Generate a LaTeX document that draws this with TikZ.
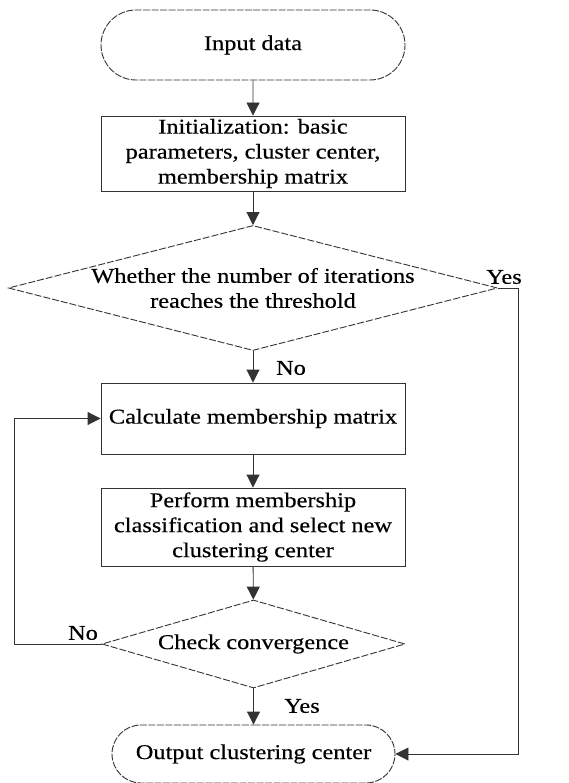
\documentclass[tikz,border=0pt]{standalone}
\usepackage{fontspec}
\setmainfont[FakeStretch=1.16,FakeBold=0.4]{Liberation Serif}
\usetikzlibrary{shapes.geometric,shapes.misc,arrows.meta}
\begin{document}
\begin{tikzpicture}[x=1pt,y=-1pt,
  font=\fontsize{21}{25}\selectfont,
  line/.style={draw=black!80,line width=0.9pt},
  arrow/.style={line,-{Triangle[length=13pt,width=13pt]}},
  terminal/.style={line,dashed,dash pattern=on 7pt off 1.5pt,rounded rectangle,
    minimum width=304pt,minimum height=70pt,inner sep=0pt,align=center},
  process/.style={line,rectangle,minimum width=304pt,inner sep=0pt,align=center},
  decision/.style={line,dash pattern=on 7pt off 2pt,diamond,inner sep=0pt},
  lab/.style={inner sep=0pt,align=center}]
\useasboundingbox (0,0) rectangle (568,783);

% main column of steps
\node[terminal] (in) at (253,45) {Input data};
\node[process,minimum height=75pt] (init) at (253,153.5)
  {Initialization: basic\\parameters, cluster center,\\membership matrix};
\node[decision,minimum width=489pt,minimum height=125pt] (d1) at (253,288) {};
\node[lab] (d1t) at (253,288) {Whether the number of iterations\\reaches the threshold};
\node[process,minimum height=71pt] (calc) at (253,418.5) {Calculate membership matrix};
\node[process,minimum height=78pt] (perf) at (253,527)
  {Perform membership\\classification and select new\\clustering center};
\node[decision,minimum width=303pt,minimum height=88pt] (d2) at (253.5,644) {};
\node[lab] (d2t) at (253.5,644) {Check convergence};
\node[terminal,minimum width=283pt,minimum height=58pt] (out) at (253.5,754)
  {Output clustering center};

% branch labels
\node[lab] (yes1) at (504,277) {Yes};
\node[lab] (no1) at (291,368) {No};
\node[lab] (no2) at (83,633) {No};
\node[lab] (yes2) at (302,706) {Yes};

% connectors
\draw[arrow] (in) -- (init);
\draw[arrow] (init) -- (d1);
\draw[arrow] (d1) -- (calc);
\draw[arrow] (calc) -- (perf);
\draw[arrow] (perf) -- (d2);
\draw[arrow] (d2) -- (out);

\coordinate (loopL) at (14,418.5);
\draw[arrow] (d2.west) -| (loopL) -- (calc.west);

\coordinate (skipR) at (518,288);
\draw[arrow] (d1.east) -- (skipR) |- (out.east);
\end{tikzpicture}
\end{document}
